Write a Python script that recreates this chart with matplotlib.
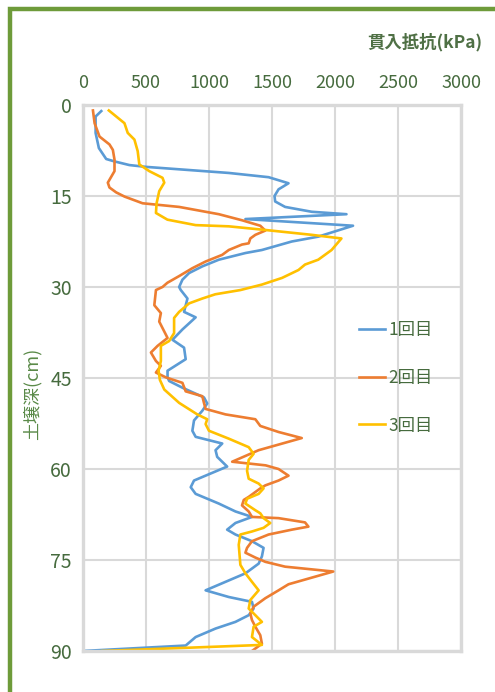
import matplotlib.pyplot as plt
from matplotlib.patches import Rectangle

plt.rcParams['font.family'] = ['Noto Sans CJK JP', 'DejaVu Sans']

# 貫入抵抗の測定値 (深さ cm, 抵抗 kPa)
depth_1 = [1.0, 1.9, 4.6, 7.1, 8.9, 9.3, 9.9, 10.2, 10.6, 11.2, 11.9, 12.9, 13.9, 15.0,
           15.9, 16.8, 17.6, 18.0, 18.8, 19.9, 21.7, 22.5, 23.9, 24.4, 25.5, 26.6, 27.7,
           28.8, 30.0, 30.5, 31.9, 34.1, 35.0, 37.0, 38.7, 40.0, 41.9, 43.8, 44.9, 45.5,
           46.6, 48.2, 49.2, 50.4, 52.0, 53.7, 54.7, 55.8, 56.9, 58.0, 59.6, 61.9, 63.0,
           64.1, 65.7, 67.0, 67.9, 68.9, 70.0, 70.8, 71.9, 73.0, 74.4, 75.6, 77.2, 78.6,
           80.0, 81.1, 81.9, 83.0, 84.1, 85.2, 86.3, 87.7, 89.1, 90.0]
kpa_1 = [145, 100, 100, 126, 184, 250, 368, 500, 763, 1157, 1473, 1631, 1552, 1520,
         1525, 1604, 1815, 2091, 1289, 2143, 1867, 1657, 1420, 1289, 1078, 947, 842,
         789, 763, 776, 829, 802, 894, 789, 710, 802, 815, 671, 671, 684,
         789, 960, 986, 947, 881, 868, 894, 1105, 1052, 1065, 1144, 881, 855,
         894, 1078, 1210, 1341, 1210, 1144, 1210, 1341, 1433, 1420, 1394, 1289, 1131,
         973, 1157, 1341, 1354, 1315, 1210, 1052, 894, 815, 0]

depth_2 = [0.9, 3.0, 5.2, 6.5, 7.4, 9.0, 10.9, 12.8, 13.6, 14.4, 15.1, 16.2, 16.8, 18.0,
           19.0, 19.9, 20.7, 21.4, 22.0, 22.8, 23.0, 23.9, 24.7, 25.8, 26.9, 28.2, 29.3,
           30.0, 30.5, 33.0, 34.3, 35.7, 38.4, 39.7, 40.8, 42.2, 43.0, 44.1, 44.9, 45.8,
           47.2, 48.0, 49.1, 50.1, 51.0, 51.8, 52.9, 53.9, 54.9, 56.9, 58.8, 59.4, 60.0,
           61.1, 61.9, 62.7, 63.2, 64.6, 65.1, 66.0, 67.0, 67.9, 68.1, 68.8, 69.5, 70.0,
           70.8, 71.9, 73.0, 73.8, 74.6, 75.3, 76.1, 76.9, 79.0, 80.0, 81.3, 82.7, 83.8,
           84.9, 86.0, 87.4, 88.8, 90.0]
kpa_2 = [79, 92, 131, 210, 237, 250, 250, 197, 210, 263, 330, 473, 763, 1078,
         1262, 1407, 1447, 1368, 1328, 1315, 1262, 1157, 1105, 973, 868, 763, 670,
         631, 579, 566, 618, 605, 671, 592, 539, 579, 618, 579, 658, 789,
         815, 947, 960, 973, 1131, 1368, 1407, 1552, 1736, 1394, 1184, 1450, 1552,
         1631, 1552, 1447, 1407, 1315, 1276, 1262, 1315, 1341, 1552, 1762, 1789, 1657,
         1473, 1341, 1302, 1289, 1368, 1447, 1604, 1986, 1631, 1552, 1447, 1354, 1328,
         1341, 1368, 1407, 1420, 1341]

depth_3 = [0.9, 3.0, 4.6, 5.7, 7.6, 9.8, 10.9, 12.0, 12.8, 14.2, 16.2, 17.8, 18.9, 19.8,
           20.0, 20.6, 21.4, 22.0, 23.9, 25.5, 26.3, 27.2, 28.5, 29.6, 30.5, 31.2,
           31.9, 32.7, 34.1, 35.1, 37.6, 38.9, 39.7, 42.2, 43.8, 45.3, 46.9, 49.1, 51.0,
           51.8, 52.6, 53.7, 55.0, 56.4, 57.5, 58.5, 60.3, 61.6, 62.4, 63.2, 64.1, 64.9,
           65.7, 66.8, 67.3, 68.1, 68.9, 69.7, 70.3, 70.8, 72.5, 75.8, 77.2, 78.6, 80.0,
           81.6, 83.0, 84.1, 85.2, 86.0, 87.7, 89.0, 90.0]
kpa_3 = [205, 329, 355, 408, 434, 447, 526, 631, 645, 605, 584, 579, 670, 894,
         1157, 1447, 1815, 2051, 1973, 1867, 1762, 1710, 1580, 1420, 1250, 1050,
         947, 842, 763, 723, 723, 684, 618, 618, 600, 610, 645, 763, 907,
         986, 973, 1000, 1157, 1315, 1354, 1315, 1302, 1315, 1394, 1433, 1394, 1302,
         1289, 1368, 1407, 1433, 1486, 1433, 1341, 1249, 1236, 1249, 1289, 1341, 1394,
         1328, 1315, 1368, 1420, 1354, 1341, 1420, 150]

labels = ['1回目', '2回目', '3回目']
colors = ['#5b9bd5', '#ed7d31', '#ffc000']

x_ticks = [0, 500, 1000, 1500, 2000, 2500, 3000]
y_ticks = [0, 15, 30, 45, 60, 75, 90]

text_green = '#466b3e'
grid_gray = '#d9d9d9'

fig = plt.figure(figsize=(4.95, 6.92), dpi=100)
ax = fig.add_axes([83 / 495, 1 - 651 / 692, 378 / 495, 546 / 692])

for d, v, lab, c in zip([depth_1, depth_2, depth_3], [kpa_1, kpa_2, kpa_3], labels, colors):
    ax.plot(v, d, color=c, lw=1.9, label=lab, solid_joinstyle='round')

ax.set_xlim(0, 3000)
ax.set_ylim(90, 0)
ax.set_xticks(x_ticks)
ax.set_yticks(y_ticks)
ax.xaxis.tick_top()
ax.tick_params(axis='x', length=0, pad=9, labelsize=13, labelcolor=text_green)
ax.tick_params(axis='y', length=0, pad=8, labelsize=14, labelcolor=text_green)
ax.grid(True, color=grid_gray, lw=1.5)
ax.set_axisbelow(True)
for s in ax.spines.values():
    s.set_color(grid_gray)
    s.set_linewidth(2.4)

ax.legend(loc='center left', bbox_to_anchor=(0.73, 0.5), frameon=False,
          fontsize=12.5, labelcolor=text_green, handlelength=1.5,
          handletextpad=0.2, labelspacing=1.7, borderpad=0, borderaxespad=0)

fig.text(482 / 495, 1 - 42 / 692, '貫入抵抗(kPa)', ha='right', va='center',
         fontsize=12.5, fontweight='bold', color='#4f7045')
fig.text(32 / 495, 1 - 394 / 692, '土壌深(cm)', ha='center', va='center',
         rotation=90, fontsize=13, color='#5a8a48')

# 外枠
fig.add_artist(Rectangle((10 / 495, -0.1), 0.99, 1 - 9 / 692 + 0.1,
                         transform=fig.transFigure, fill=False,
                         edgecolor='#6e9b3a', lw=3.2))

fig.savefig('out.png', dpi=100)
